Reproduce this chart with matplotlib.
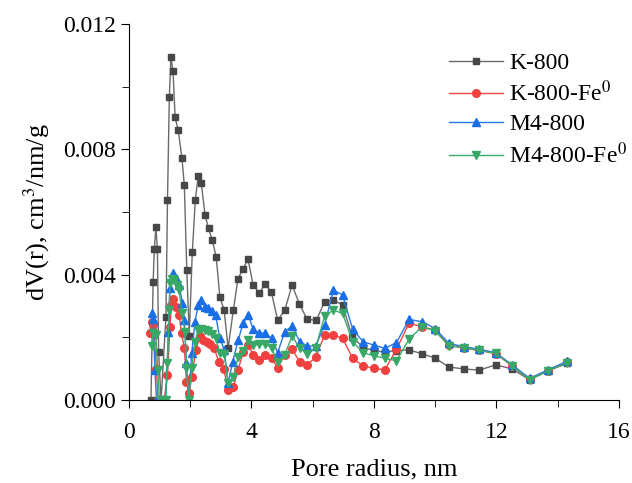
import matplotlib
matplotlib.use("Agg")
import matplotlib.pyplot as plt
from matplotlib.ticker import MultipleLocator

plt.rcParams['font.family'] = ['Liberation Serif', 'DejaVu Serif']
plt.rcParams['mathtext.fontset'] = 'stix'

# K-800
x_k = [0.72, 0.79, 0.83, 0.88, 0.93, 0.97, 1.05, 1.21, 1.26, 1.32, 1.37, 1.44, 1.51, 1.61, 1.73,
       1.81, 1.89, 1.97, 2.07, 2.17, 2.26, 2.36, 2.49, 2.60, 2.72, 2.85, 2.97, 3.11, 3.24, 3.41,
       3.56, 3.72, 3.89, 4.06, 4.26, 4.45, 4.65, 4.86, 5.09, 5.33, 5.57, 5.82, 6.12, 6.39, 6.68,
       6.98, 7.29, 7.65, 8.00, 8.36, 8.74, 9.15, 9.58, 10.00, 10.45, 10.94, 11.44, 11.98, 12.52,
       13.09, 13.69, 14.32]
y_k = [0, 0.00375, 0.00483, 0.00552, 0.00482, 0.00153, 0, 0.00265, 0.0064, 0.00966, 0.01094,
       0.0105, 0.00902, 0.00861, 0.00774, 0.00685, 0.00415, 0.00205, 0.00471, 0.0064, 0.00714,
       0.00694, 0.00589, 0.00548, 0.0051, 0.00458, 0.00328, 0.00287, 0.00166, 0.00286, 0.00386,
       0.00417, 0.00449, 0.00366, 0.00342, 0.00369, 0.00345, 0.00255, 0.00286, 0.00367, 0.00306,
       0.00258, 0.00254, 0.00313, 0.00319, 0.00303, 0.00202, 0.00168, 0.00157, 0.00154, 0.00157,
       0.0016, 0.00147, 0.00134, 0.00105, 0.00099, 0.00095, 0.00112, 0.00099, 0.00064, 0.00093,
       0.00117]

# K-800-Fe0
x_kfe = [0.68, 0.74, 0.80, 0.90, 0.95, 1.05, 1.15, 1.26, 1.34, 1.39, 1.45, 1.53, 1.64, 1.72, 1.81,
         1.88, 1.97, 2.05, 2.19, 2.32, 2.43, 2.54, 2.64, 2.78, 2.94, 3.10, 3.24, 3.41, 3.57, 3.73,
         3.90, 4.06, 4.26, 4.45, 4.66, 4.86, 5.09, 5.33, 5.58, 5.83, 6.10, 6.39, 6.68, 6.98, 7.31,
         7.65, 8.00, 8.36, 8.74, 9.15, 9.58, 10.00, 10.45, 10.94, 11.44, 11.98, 12.52, 13.09,
         13.69, 14.32]
y_kfe = [0.00213, 0.0025, 0.0024, 0.001, 0, 0, 0, 0.00078, 0.00232, 0.00303, 0.00321, 0.00298,
         0.00271, 0.00213, 0.00165, 0.00058, 0.00021, 0.00074, 0.0016, 0.00204, 0.00191, 0.00186,
         0.00179, 0.00165, 0.00122, 0.00098, 0.00032, 0.00041, 0.00096, 0.00154, 0.00175, 0.00144,
         0.00126, 0.00144, 0.00133, 0.00103, 0.00144, 0.00162, 0.00122, 0.00113, 0.00136, 0.00207,
         0.00207, 0.00197, 0.00133, 0.00108, 0.00101, 0.00096, 0.00162, 0.00245, 0.00234, 0.00222,
         0.00176, 0.00165, 0.00158, 0.00148, 0.00108, 0.00066, 0.00093, 0.0012]

# M4-800
x_m = [0.74, 0.79, 0.85, 0.90, 1.00, 1.10, 1.20, 1.29, 1.34, 1.43, 1.53, 1.64, 1.75, 1.81, 1.88,
       1.95, 2.05, 2.16, 2.26, 2.37, 2.48, 2.59, 2.70, 2.83, 2.97, 3.11, 3.24, 3.39, 3.57, 3.73,
       3.90, 4.06, 4.26, 4.45, 4.66, 4.86, 5.09, 5.33, 5.58, 5.83, 6.10, 6.39, 6.68, 6.98, 7.31,
       7.65, 8.00, 8.36, 8.74, 9.15, 9.58, 10.00, 10.45, 10.94, 11.44, 11.98, 12.52, 13.09,
       13.69, 14.32]
y_m = [0.00277, 0.0026, 0.00096, 0, 0, 0, 0, 0.00218, 0.00356, 0.00404, 0.00388, 0.00367, 0.00308,
       0.00255, 0.00117, 0, 0.00149, 0.0025, 0.00303, 0.00319, 0.00298, 0.00292, 0.00285, 0.00271,
       0.00197, 0.0016, 0.00053, 0.00122, 0.00191, 0.00245, 0.00271, 0.00225, 0.00213, 0.00213,
       0.00197, 0.00151, 0.00218, 0.00236, 0.00186, 0.00172, 0.00172, 0.00239, 0.00351, 0.00335,
       0.00225, 0.00186, 0.00175, 0.00165, 0.00183, 0.00257, 0.0025, 0.00228, 0.00181, 0.0017,
       0.00162, 0.00151, 0.00112, 0.00069, 0.00096, 0.00124]

# M4-800-Fe0
x_mfe = [0.74, 0.79, 0.88, 0.94, 1.00, 1.10, 1.20, 1.26, 1.31, 1.34, 1.41, 1.48, 1.56, 1.64, 1.73,
         1.83, 1.88, 1.95, 2.05, 2.16, 2.26, 2.37, 2.48, 2.59, 2.70, 2.83, 2.97, 3.11, 3.24, 3.41,
         3.57, 3.73, 3.90, 4.06, 4.26, 4.45, 4.66, 4.86, 5.09, 5.33, 5.58, 5.83, 6.10, 6.39, 6.68,
         6.98, 7.31, 7.65, 8.00, 8.36, 8.74, 9.15, 9.58, 10.00, 10.45, 10.94, 11.44, 11.98, 12.52,
         13.09, 13.69, 14.32]
y_mfe = [0.00172, 0.00213, 0.00207, 0.00096, 0, 0, 0, 0.00117, 0.00287, 0.00372, 0.00385, 0.00383,
         0.00367, 0.00351, 0.00277, 0.00218, 0.00101, 0, 0.00101, 0.00186, 0.00223, 0.00226, 0.00223,
         0.0022, 0.0021, 0.00199, 0.00151, 0.00147, 0.00053, 0.00072, 0.00138, 0.00156, 0.00191,
         0.00175, 0.00177, 0.0018, 0.00165, 0.00122, 0.00144, 0.00204, 0.00165, 0.00147, 0.00165,
         0.00268, 0.00287, 0.00276, 0.00186, 0.00151, 0.00141, 0.00133, 0.00125, 0.00194, 0.00234,
         0.0022, 0.00173, 0.00167, 0.00158, 0.00149, 0.00109, 0.00065, 0.00093, 0.00119]

fig = plt.figure(figsize=(6.32, 4.83), dpi=100)
ax = fig.add_axes([0.204, 0.172, 0.775, 0.778])

ax.plot(x_k, y_k, color='#6a6a6a', lw=1, marker='s', ms=5, mfc='#474747', mec='#474747',
        label='K-800')
ax.plot(x_kfe, y_kfe, color='#f04545', lw=1, marker='o', ms=5.5, mfc='#f04040', mec='#f04040',
        label='K-800-Fe$^0$')
ax.plot(x_m, y_m, color='#2a78e4', lw=1, marker='^', ms=6, mfc='#1a6ee6', mec='#1a6ee6',
        label='M4-800')
ax.plot(x_mfe, y_mfe, color='#3cac6c', lw=1, marker='v', ms=6, mfc='#38a866', mec='#38a866',
        label='M4-800-Fe$^0$')

ax.set_xlim(0, 16)
ax.set_ylim(0, 0.012)
ax.xaxis.set_major_locator(MultipleLocator(4))
ax.xaxis.set_minor_locator(MultipleLocator(2))
ax.yaxis.set_major_locator(MultipleLocator(0.004))
ax.yaxis.set_minor_locator(MultipleLocator(0.002))
ax.yaxis.set_major_formatter(matplotlib.ticker.FormatStrFormatter('%.3f'))
ax.spines['top'].set_visible(False)
ax.spines['right'].set_visible(False)
ax.tick_params(which='major', direction='out', length=6, labelsize=17)
ax.tick_params(which='minor', direction='out', length=5)
ax.tick_params(axis='x', which='major', pad=10)

ax.set_xlabel('Pore radius, nm', fontsize=19, labelpad=11)
ax.set_ylabel('dV(r), cm$^3$/nm/g', fontsize=19, labelpad=8)

ax.legend(loc='upper left', bbox_to_anchor=(0.634, 0.95), borderaxespad=0, frameon=False,
          fontsize=17, handlelength=2.3, labelspacing=0.3, handletextpad=0.25)

fig.savefig('out.png', dpi=100)
